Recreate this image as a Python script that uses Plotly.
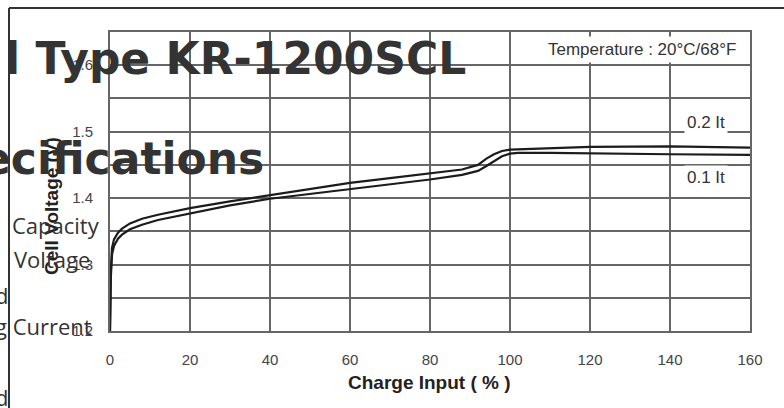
import plotly.graph_objects as go

# ---- data ----
charge_02 = [0, 0.2, 0.5, 1, 2, 3, 5, 8, 12, 20, 30, 40, 50, 60, 70, 80, 88, 92, 94, 96, 98, 100, 110, 120, 140, 160]
volt_02 = [1.2, 1.29, 1.325, 1.338, 1.348, 1.354, 1.362, 1.369, 1.375, 1.385, 1.395, 1.404, 1.413, 1.423, 1.43, 1.437,
           1.443, 1.45, 1.459, 1.466, 1.471, 1.473, 1.475, 1.477, 1.478, 1.476]
charge_01 = [0, 0.2, 0.5, 1, 2, 3, 5, 8, 12, 20, 30, 40, 50, 60, 70, 80, 88, 92, 94, 96, 98, 100, 102, 110, 120, 140, 160]
volt_01 = [1.2, 1.28, 1.315, 1.328, 1.339, 1.345, 1.353, 1.36, 1.367, 1.377, 1.389, 1.399, 1.406, 1.413, 1.42, 1.428,
           1.435, 1.441, 1.448, 1.456, 1.463, 1.467, 1.468, 1.468, 1.467, 1.466, 1.465]

x_tick_vals = [0, 20, 40, 60, 80, 100, 120, 140, 160]
x_tick_text = ["0", "20", "40", "60", "80", "100", "120", "140", "160"]
y_tick_vals = [1.2, 1.25, 1.3, 1.35, 1.4, 1.45, 1.5, 1.55, 1.6, 1.65]
y_tick_text = ["1.2", "", "1.3", "", "1.4", "", "1.5", "", "1.6", ""]

series_names = ["0.2 It", "0.1 It"]

# ---- layout geometry (pixels) ----
W, H = 784, 408
L, R, T, B = 110, 750, 32, 331


def px(x):
    return (x - L) / (R - L)


def py(y):
    return (B - y) / (B - T)


CHART_FONT = "Liberation Sans, Arial, Helvetica, sans-serif"
GRID = "#666666"

fig = go.Figure()
fig.add_trace(go.Scatter(x=charge_02, y=volt_02, mode="lines", name=series_names[0],
                         line=dict(color="#1c1c1c", width=2.2)))
fig.add_trace(go.Scatter(x=charge_01, y=volt_01, mode="lines", name=series_names[1],
                         line=dict(color="#1c1c1c", width=2.2)))

fig.update_layout(
    width=W, height=H,
    margin=dict(l=L, r=W - R, t=T, b=H - B, pad=0),
    paper_bgcolor="white", plot_bgcolor="white",
    showlegend=False,
    font=dict(family=CHART_FONT, color="#444"),
)
fig.update_xaxes(range=[0, 160], tickvals=x_tick_vals, ticktext=x_tick_text,
                 showgrid=True, gridcolor=GRID, gridwidth=1.8,
                 showline=True, mirror=True, linecolor=GRID, linewidth=1.8,
                 zeroline=False, ticks="", ticklabelstandoff=14,
                 tickfont=dict(size=15, color="#444"))
fig.update_yaxes(range=[1.2, 1.65], tickvals=y_tick_vals, ticktext=y_tick_text,
                 showgrid=True, gridcolor=GRID, gridwidth=1.8,
                 showline=True, mirror=True, linecolor=GRID, linewidth=1.8,
                 zeroline=False, ticks="", ticklabelstandoff=12,
                 tickfont=dict(size=15, color="#444"))

ann = []
# axis titles
ann.append(dict(text="<b>Charge Input ( % )</b>", x=px(429), y=py(382), xref="paper", yref="paper",
                showarrow=False, xanchor="center", yanchor="middle",
                font=dict(family=CHART_FONT, size=19, color="#222")))
ann.append(dict(text="<b>Cell Voltage (V)</b>", x=px(51), y=py(206), xref="paper", yref="paper",
                showarrow=False, xanchor="center", yanchor="middle", textangle=-90,
                font=dict(family=CHART_FONT, size=19, color="#222")))
# in-chart labels with white boxes
ann.append(dict(text="Temperature : 20°C/68°F", x=px(642), y=py(50), xref="paper", yref="paper",
                showarrow=False, xanchor="center", yanchor="middle", bgcolor="white", borderpad=3,
                font=dict(family=CHART_FONT, size=17, color="#333")))
ann.append(dict(text=series_names[0], x=px(706), y=py(122), xref="paper", yref="paper",
                showarrow=False, xanchor="center", yanchor="middle", bgcolor="white", borderpad=2,
                font=dict(family=CHART_FONT, size=17, color="#333")))
ann.append(dict(text=series_names[1], x=px(706), y=py(177), xref="paper", yref="paper",
                showarrow=False, xanchor="center", yanchor="middle", bgcolor="white", borderpad=2,
                font=dict(family=CHART_FONT, size=17, color="#333")))

# overlaid page text
HEAD = "DejaVu Sans, sans-serif"
BODY = "Open Sans, Noto Sans, sans-serif"
ann.append(dict(text="<b>l Type KR-1200SCL</b>", x=px(468), y=py(58), xref="paper", yref="paper",
                showarrow=False, xanchor="right", yanchor="middle",
                font=dict(family=HEAD, size=44, color="#333")))
ann.append(dict(text="<b>ecifications</b>", x=px(266), y=py(158), xref="paper", yref="paper",
                showarrow=False, xanchor="right", yanchor="middle",
                font=dict(family=HEAD, size=44, color="#333")))
for txt, xr, yc in [("Capacity", 102, 225), ("Voltage", 92, 259), ("d", 10, 295),
                    ("g Current", 94, 326), ("d", 10, 397)]:
    ann.append(dict(text=txt, x=px(xr), y=py(yc), xref="paper", yref="paper",
                    showarrow=False, xanchor="right", yanchor="middle",
                    font=dict(family=BODY, size=22, color="#333")))
fig.update_layout(annotations=ann)

# outer page frame (top and left edges)
fig.add_shape(type="line", xref="paper", yref="paper", x0=px(9), x1=px(790), y0=py(8), y1=py(8),
              line=dict(color="#333", width=2))
fig.add_shape(type="line", xref="paper", yref="paper", x0=px(9), x1=px(9), y0=py(8), y1=py(415),
              line=dict(color="#333", width=2))

fig.write_html("out.html", config={"displayModeBar": False},
               post_script="document.body.style.margin='0';")
